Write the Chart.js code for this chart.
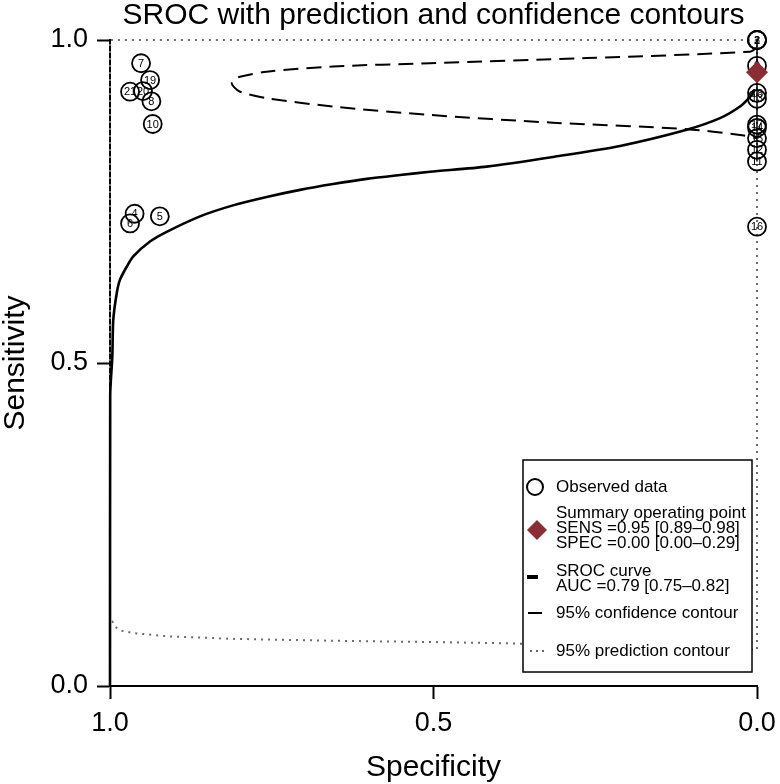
<!DOCTYPE html>
<html>
<head>
<meta charset="utf-8">
<script src="https://cdn.jsdelivr.net/npm/chart.js@4.4.0/dist/chart.umd.min.js"></script>
<style>
  html, body { margin: 0; padding: 0; background: #fff; }
</style>
</head>
<body>
<canvas id="srocChart" width="780" height="784"></canvas>
<script>
// observed studies (specificity, sensitivity)
const studyIds = [1, 2, 3, 4, 5, 6, 7, 8, 9, 10, 11, 12, 13, 14, 15, 16, 17, 18, 19, 20, 21];
const obsSpec  = [0, 0, 0, 0.962, 0.923, 0.969, 0.952, 0.936, 0, 0.934, 0, 0, 0, 0, 0, 0, 0, 0, 0.938, 0.949, 0.969];
const obsSens  = [1.0, 1.0, 1.0, 0.731, 0.727, 0.716, 0.964, 0.905, 0.96, 0.870, 0.812, 0.830, 0.909, 0.864, 0.848, 0.711, 0.869, 0.918, 0.938, 0.921, 0.920];

// summary operating point
const summarySpec = [0.0];
const summarySens = [0.95];

// SROC curve
const srocSpec = [1.0, 0.9997, 0.9964, 0.995, 0.9896, 0.9845, 0.9742, 0.964, 0.9382, 0.9124, 0.8609, 0.8099, 0.7578, 0.7063, 0.6553, 0.6032, 0.5518, 0.5054, 0.4178, 0.3153, 0.2117, 0.1087, 0.0572, 0.0263, 0.0108, 0.0031];
const srocSens = [0.0, 0.45, 0.510, 0.566, 0.608, 0.629, 0.649, 0.665, 0.688, 0.703, 0.727, 0.744, 0.757, 0.768, 0.777, 0.785, 0.791, 0.796, 0.804, 0.819, 0.836, 0.861, 0.879, 0.897, 0.912, 0.923];

// 95% confidence contour
const ciSpec = [0, 0.0108, 0.2633, 0.5054, 0.6553, 0.7578, 0.7991, 0.8083, 0.8119, 0.8083, 0.7991, 0.7578, 0.6553, 0.5054, 0.3153, 0.1087, 0.0263, 0];
const ciSens = [0.988, 0.982, 0.972, 0.964, 0.959, 0.951, 0.943, 0.939, 0.933, 0.927, 0.920, 0.910, 0.897, 0.884, 0.872, 0.862, 0.853, 0.848];
const ciEdgeSpec = [0, 0];
const ciEdgeSens = [1.0, 0.812];

// 95% prediction contour
const predSpec = [1.0, 1.0, 0.0, 0.0, 0.0881, 0.2427, 0.3818, 0.5008, 0.6553, 0.8099, 0.9124, 0.964, 0.9845, 0.9923, 0.9964, 1.0];
const predSens = [0.102, 1.0, 1.0, 0.056, 0.059, 0.062, 0.066, 0.068, 0.070, 0.073, 0.077, 0.082, 0.086, 0.092, 0.100, 0.102];

const axisTicks = [0, 0.5, 1];

const FONT = '"Liberation Sans", Arial, Helvetica, sans-serif';
const pts = (xs, ys) => xs.map((x, i) => ({ x: x, y: ys[i] }));

const studyLabels = {
    id: 'studyLabels',
    afterDatasetDraw(chart, args) {
        if (chart.data.datasets[args.index].label !== 'Observed data') return;
        const ctx = chart.ctx;
        ctx.save();
        ctx.font = '11px ' + FONT;
        ctx.fillStyle = '#000';
        ctx.textAlign = 'center';
        ctx.textBaseline = 'middle';
        args.meta.data.forEach((p, i) => ctx.fillText(String(studyIds[i]), p.x, p.y + 0.5));
        ctx.restore();
    }
};

const legendBox = {
    id: 'legendBox',
    afterDatasetsDraw(chart) {
        const ctx = chart.ctx;
        const L = 523, T = 460, R = 752, B = 672, tx = 556;
        ctx.save();
        ctx.fillStyle = '#fff';
        ctx.fillRect(L, T, R - L, B - T);
        ctx.strokeStyle = '#000';
        ctx.lineWidth = 1.5;
        ctx.strokeRect(L, T, R - L, B - T);

        ctx.fillStyle = '#000';
        ctx.font = '17px ' + FONT;
        ctx.textBaseline = 'middle';
        ctx.textAlign = 'left';

        // observed data
        ctx.beginPath();
        ctx.lineWidth = 2;
        ctx.arc(535, 487, 8, 0, Math.PI * 2);
        ctx.stroke();
        ctx.fillText('Observed data', tx, 487);

        // summary point
        ctx.fillStyle = '#8c2d33';
        ctx.beginPath();
        ctx.moveTo(537, 520); ctx.lineTo(547, 530); ctx.lineTo(537, 540); ctx.lineTo(527, 530);
        ctx.closePath();
        ctx.fill();
        ctx.fillStyle = '#000';
        ctx.fillText('Summary operating point', tx, 513);
        ctx.fillText('SENS =0.95 [0.89\u20130.98]', tx, 528);
        ctx.fillText('SPEC =0.00 [0.00\u20130.29]', tx, 543);

        // SROC curve
        ctx.fillRect(527, 575, 11, 4);
        ctx.fillText('SROC curve', tx, 571);
        ctx.fillText('AUC =0.79 [0.75\u20130.82]', tx, 586);

        // confidence contour
        ctx.fillRect(528, 612, 14, 2);
        ctx.fillText('95% confidence contour', tx, 613);

        // prediction contour
        ctx.fillStyle = '#666';
        [530, 536, 542].forEach(x => ctx.fillRect(x, 650, 2, 2));
        ctx.fillStyle = '#000';
        ctx.fillText('95% prediction contour', tx, 651);
        ctx.restore();
    }
};

const plotTitle = {
    id: 'plotTitle',
    afterDraw(chart) {
        const ctx = chart.ctx;
        const a = chart.chartArea;
        ctx.save();
        ctx.font = '30px ' + FONT;
        ctx.fillStyle = '#000';
        ctx.textAlign = 'center';
        ctx.textBaseline = 'alphabetic';
        ctx.fillText('SROC with prediction and confidence contours', (a.left + a.right) / 2, 24);
        ctx.restore();
    }
};

const ctx = document.getElementById('srocChart').getContext('2d');
const srocChart = new Chart(ctx, {
    type: 'scatter',
    data: {
        datasets: [
            {
                label: 'Summary operating point',
                data: pts(summarySpec, summarySens),
                pointStyle: 'rectRot',
                pointRadius: 11,
                backgroundColor: '#8c2d33',
                borderColor: '#8c2d33',
                borderWidth: 0,
                clip: false,
                order: 0
            },
            {
                label: 'Observed data',
                data: pts(obsSpec, obsSens),
                pointRadius: 9,
                backgroundColor: 'rgba(0,0,0,0)',
                borderColor: '#000',
                borderWidth: 1.8,
                clip: false,
                order: 1
            },
            {
                label: 'SROC curve',
                data: pts(srocSpec, srocSens),
                showLine: true,
                pointRadius: 0,
                borderColor: '#000',
                borderWidth: 2.6,
                tension: 0.25,
                clip: false,
                order: 2
            },
            {
                label: '95% confidence contour',
                data: pts(ciSpec, ciSens),
                showLine: true,
                pointRadius: 0,
                borderColor: '#000',
                borderWidth: 2,
                borderDash: [15, 8],
                tension: 0.3,
                clip: false,
                order: 3
            },
            {
                label: '95% confidence contour edge',
                data: pts(ciEdgeSpec, ciEdgeSens),
                showLine: true,
                pointRadius: 0,
                borderColor: '#000',
                borderWidth: 1.5,
                clip: false,
                order: 3
            },
            {
                label: '95% prediction contour',
                data: pts(predSpec, predSens),
                showLine: true,
                pointRadius: 0,
                borderColor: '#6a6a6a',
                borderWidth: 2,
                borderDash: [2, 5],
                tension: 0,
                clip: false,
                order: 4
            }
        ]
    },
    options: {
        responsive: false,
        animation: false,
        devicePixelRatio: 1,
        layout: { padding: { top: 40, right: 23, left: 0, bottom: 0 } },
        scales: {
            x: {
                type: 'linear',
                reverse: true,
                min: 0,
                max: 1,
                afterFit: s => { s.height = 98; },
                afterBuildTicks: s => { s.ticks = axisTicks.map(v => ({ value: v })); },
                ticks: {
                    font: { family: FONT, size: 27 },
                    color: '#000',
                    padding: 8,
                    maxRotation: 0,
                    callback: v => v.toFixed(1)
                },
                grid: { drawOnChartArea: false, drawTicks: true, tickLength: 13, tickWidth: 2, tickColor: '#000' },
                border: { display: true, color: '#000', width: 2 },
                title: {
                    display: true,
                    text: 'Specificity',
                    font: { family: FONT, size: 30 },
                    color: '#000',
                    padding: { top: 0, bottom: -2 }
                }
            },
            y: {
                type: 'linear',
                min: 0,
                max: 1,
                afterFit: s => { s.width = 110; },
                afterBuildTicks: s => { s.ticks = axisTicks.map(v => ({ value: v })); },
                ticks: {
                    font: { family: FONT, size: 27 },
                    color: '#000',
                    padding: 9,
                    callback: v => v.toFixed(1)
                },
                grid: { drawOnChartArea: false, drawTicks: true, tickLength: 13, tickWidth: 2, tickColor: '#000' },
                border: { display: true, color: '#000', width: 2 },
                title: {
                    display: true,
                    text: 'Sensitivity',
                    font: { family: FONT, size: 30 },
                    color: '#000',
                    padding: { top: -2, bottom: 0 }
                }
            }
        },
        plugins: {
            legend: { display: false },
            tooltip: { enabled: false }
        }
    },
    plugins: [studyLabels, legendBox, plotTitle]
});
</script>
</body>
</html>
